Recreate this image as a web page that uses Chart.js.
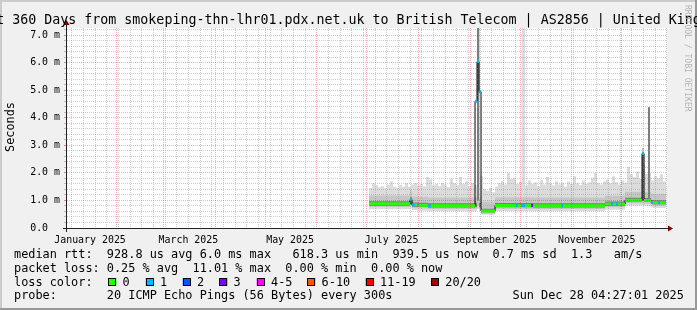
<!DOCTYPE html>
<html>
<head>
<meta charset="utf-8">
<script src="https://cdn.jsdelivr.net/npm/chart.js@4.4.1/dist/chart.umd.min.js"></script>
<style>
  html, body { margin: 0; padding: 0; background: #f0f0f0; }
  canvas { display: block; }
</style>
</head>
<body>
<canvas id="smokeChart" width="697" height="310"></canvas>
<script>
const titleText = 'Last 360 Days from smokeping-thn-lhr01.pdx.net.uk to British Telecom | AS2856 | United Kingdom';

// x values are days since 1 Jan 2025 00:00
const rangeStart = 1.185;   // Jan 02 04:27
const rangeEnd = 361.185;   // Dec 28 04:27
const yMax = 7.26;

const monthLabels = ['January 2025', 'March 2025', 'May 2025', 'July 2025', 'September 2025', 'November 2025'];
const monthLabelDays = [15, 74, 135, 196, 258, 319];
const monthStartDays = [31, 59, 90, 120, 151, 181, 212, 243, 273, 304, 334];
const firstSunday = 4;
const yLabels = ['0.0  ', '1.0 m', '2.0 m', '3.0 m', '4.0 m', '5.0 m', '6.0 m', '7.0 m'];

// median rtt (ms) per segment, segment starts in days
const segStartDay = [182.4, 207.0, 208.2, 210.0, 211.2, 212.4, 217.8, 219.6, 246.0, 247.2, 248.4, 249.6,
  258.0, 270.6, 271.8, 273.6, 276.0, 279.6, 280.8, 297.6, 298.8, 324.0, 327.6, 328.8, 330.6, 331.8,
  336.0, 346.2, 347.4, 349.8, 351.0, 351.6, 352.8, 355.8, 357.0];
const dataEndDay = 360.6;
const medianMs = [0.88, 1.03, 0.84, 0.84, 0.84, 0.83, 0.80, 0.81, 4.60, 6.04, 4.95, 0.62,
  0.82, 0.82, 0.82, 0.82, 0.82, 0.82, 0.81, 0.81, 0.81, 0.87, 0.87, 0.87, 0.87, 0.87,
  1.01, 2.70, 1.00, 1.00, 1.00, 0.93, 0.92, 0.92, 0.92];
const lostPings = [0, 1, 1, 0, 1, 0, 1, 0, 1, 1, 1, 0,
  0, 1, 0, 1, 0, 3, 0, 1, 0, 0, 1, 0, 1, 0,
  0, 1, 0, 0, 0, 1, 0, 1, 0];

// smoke bands per segment
const smokeLow = [0.68, 0.72, 0.64, 0.64, 0.64, 0.63, 0.61, 0.61, 0.62, 0.70, 0.62, 0.48,
  0.62, 0.62, 0.62, 0.62, 0.62, 0.62, 0.61, 0.61, 0.61, 0.66, 0.66, 0.66, 0.66, 0.66,
  0.82, 0.82, 0.81, 0.81, 0.81, 0.74, 0.73, 0.73, 0.73];
const midLow = [0.76, 0.80, 0.72, 0.72, 0.72, 0.71, 0.69, 0.69, 0.70, 0.80, 0.70, 0.52,
  0.70, 0.70, 0.70, 0.70, 0.70, 0.70, 0.69, 0.69, 0.69, 0.75, 0.75, 0.75, 0.75, 0.75,
  0.90, 0.90, 0.89, 0.89, 0.89, 0.82, 0.81, 0.81, 0.81];
const coreLow = [0.81, 0.86, 0.77, 0.77, 0.77, 0.76, 0.74, 0.74, 0.75, 1.00, 0.75, 0.57,
  0.75, 0.75, 0.75, 0.75, 0.75, 0.75, 0.74, 0.74, 0.74, 0.80, 0.80, 0.80, 0.80, 0.80,
  0.95, 0.98, 0.94, 0.94, 0.94, 0.87, 0.86, 0.86, 0.86];
const coreHigh = [0.97, 1.12, 0.93, 0.93, 0.93, 0.92, 0.90, 0.90, 0.92, 7.30, 0.92, 0.70,
  0.91, 0.91, 0.91, 0.91, 0.91, 0.91, 0.90, 0.90, 0.90, 0.96, 0.96, 0.96, 0.96, 0.96,
  1.10, 2.75, 1.09, 4.38, 1.09, 1.02, 1.01, 1.01, 1.01];
const midHigh = [1.18, 1.35, 1.14, 1.14, 1.14, 1.13, 1.11, 1.11, 1.12, 7.30, 1.12, 0.95,
  1.12, 1.12, 1.12, 1.12, 1.12, 1.12, 1.11, 1.11, 1.11, 1.17, 1.17, 1.17, 1.17, 1.17,
  1.32, 2.90, 1.31, 4.38, 1.31, 1.24, 1.23, 1.23, 1.23];

// top of the smoke, one value every 1.8 days
const smokeTopStart = 182.4;
const smokeTopStep = 1.8;
const smokeTop = [
  1.45, 1.62, 1.55, 1.48, 1.52, 1.44, 1.58, 1.69, 1.50, 1.47,
  1.56, 1.50, 1.62, 1.49, 1.58, 1.63, 1.55, 1.60, 1.52, 1.85,
  1.76, 1.55, 1.60, 1.52, 1.64, 1.58, 1.49, 1.80, 1.62, 1.55,
  1.86, 1.60, 1.70, 1.52, 1.64, 1.55, 7.30, 1.90, 1.42, 1.35,
  1.46, 1.30, 1.50, 1.62, 1.70, 1.58, 2.00, 1.78, 1.82, 1.60,
  1.68, 7.30, 1.55, 1.72, 1.60, 1.66, 1.52, 1.75, 1.58, 1.86,
  1.62, 1.55, 1.70, 1.58, 1.64, 1.50, 1.68, 1.60, 1.88, 1.62,
  1.56, 1.72, 1.60, 1.66, 1.82, 2.00, 1.64, 1.58, 1.70, 1.76,
  1.62, 1.88, 1.66, 1.58, 1.72, 1.64, 2.22, 1.95, 1.85, 2.05,
  1.78, 2.30, 1.96, 2.00, 1.72, 1.90, 1.80, 1.95, 1.70
];

const lossLabels = ['0', '1', '2', '3', '4-5', '6-10', '11-19', '20/20'];
const lossColors = ['#26ff00', '#00b8ff', '#0059ff', '#7e00ff', '#ff00ff', '#ff5500', '#ff0000', '#a10000'];

const statsLines = [
  'median rtt:  928.8 us avg 6.0 ms max   618.3 us min  939.5 us now  0.7 ms sd  1.3   am/s',
  'packet loss: 0.25 % avg  11.01 % max  0.00 % min  0.00 % now',
  'loss color:',
  'probe:       20 ICMP Echo Pings (56 Bytes) every 300s'
];
const dateText = 'Sun Dec 28 04:27:01 2025';

const MONO = '"DejaVu Sans Mono", monospace';

function lossClass(n) {
  if (n <= 3) return n;
  if (n <= 5) return 4;
  if (n <= 10) return 5;
  if (n <= 19) return 6;
  return 7;
}

// common x list for the smoke layers
const xSet = new Set([...segStartDay, dataEndDay].map(d => +d.toFixed(2)));
for (let i = 0; i <= smokeTop.length; i++) xSet.add(+(smokeTopStart + i * smokeTopStep).toFixed(2));
const xList = [...xSet].sort((a, b) => a - b);

function segIndex(x) {
  let k = 0;
  for (let i = 0; i < segStartDay.length; i++) if (segStartDay[i] <= x + 1e-6) k = i;
  return k;
}
function topIndex(x) {
  return Math.min(smokeTop.length - 1, Math.floor((x - smokeTopStart) / smokeTopStep + 1e-6));
}
const bandPoints = arr => xList.map(x => ({ x, y: arr[segIndex(x)] }));
const topPoints = xList.map(x => ({ x, y: smokeTop[topIndex(x)] }));

const medianPoints = segStartDay.map((d, i) => ({ x: d, y: medianMs[i] }));
medianPoints.push({ x: dataEndDay, y: medianMs[medianMs.length - 1] });

const lossDatasets = lossColors.map((color, k) => {
  const pts = [];
  segStartDay.forEach((d, i) => {
    if (lossClass(lostPings[i]) !== k) return;
    const end = i + 1 < segStartDay.length ? segStartDay[i + 1] : dataEndDay;
    pts.push({ x: d, y: medianMs[i] }, { x: end, y: medianMs[i] }, { x: end, y: null });
  });
  return {
    data: pts, borderColor: color, borderWidth: 3, borderCapStyle: 'butt',
    pointRadius: 0, stepped: true, spanGaps: false, fill: false, order: 1
  };
});

const hidden = (data, order) => ({
  data, borderWidth: 0, borderColor: 'rgba(0,0,0,0)', pointRadius: 0, stepped: true, fill: false, order
});
const band = (data, target, color, order) => ({
  data, borderWidth: 0, borderColor: 'rgba(0,0,0,0)', backgroundColor: color,
  pointRadius: 0, stepped: true, fill: target, order
});

// x ticks: weekly minor grid, monthly major grid, mid-month labels
const xTickKind = new Map();
for (let d = firstSunday; d <= rangeEnd; d += 7) xTickKind.set(d, { grid: 'minor', label: '' });
monthStartDays.forEach(d => xTickKind.set(d, { grid: 'major', label: '' }));
monthLabelDays.forEach((d, i) => {
  const k = xTickKind.get(d);
  xTickKind.set(d, { grid: k ? k.grid : null, label: monthLabels[i] });
});
const xTicks = [...xTickKind.keys()].sort((a, b) => a - b);

const minorGrid = 'rgba(140,140,140,0.42)';
const majorGrid = 'rgba(255,0,0,0.32)';

const decor = {
  id: 'decor',
  beforeDraw(chart) {
    const { ctx, chartArea: a, width, height } = chart;
    ctx.save();
    ctx.fillStyle = '#f0f0f0';
    ctx.fillRect(0, 0, width, height);
    ctx.fillStyle = '#ffffff';
    ctx.fillRect(a.left, a.top, a.right - a.left, a.bottom - a.top);
    ctx.restore();
  },
  afterDraw(chart) {
    const { ctx, chartArea: a, width, height } = chart;
    ctx.save();
    // frame
    ctx.fillStyle = '#cbcbcb';
    ctx.fillRect(0, 0, width, 2);
    ctx.fillRect(0, 0, 2, height);
    ctx.fillStyle = '#999999';
    ctx.fillRect(0, height - 2, width, 2);
    ctx.fillRect(width - 2, 0, 2, height);

    // axes with arrows
    ctx.strokeStyle = '#222';
    ctx.lineWidth = 1;
    ctx.beginPath();
    ctx.moveTo(a.left - 0.5, a.bottom + 4);
    ctx.lineTo(a.left - 0.5, a.top - 6);
    ctx.moveTo(a.left - 4, a.bottom + 0.5);
    ctx.lineTo(a.right + 2, a.bottom + 0.5);
    ctx.stroke();
    ctx.fillStyle = '#7f0000';
    ctx.beginPath();
    ctx.moveTo(a.left - 3.5, a.top - 3);
    ctx.lineTo(a.left + 2.5, a.top - 3);
    ctx.lineTo(a.left - 0.5, a.top - 8);
    ctx.closePath();
    ctx.fill();
    ctx.beginPath();
    ctx.moveTo(a.right + 1, a.bottom - 2.5);
    ctx.lineTo(a.right + 1, a.bottom + 3.5);
    ctx.lineTo(a.right + 6, a.bottom + 0.5);
    ctx.closePath();
    ctx.fill();

    // title
    ctx.fillStyle = '#000';
    ctx.font = '13.3px ' + MONO;
    ctx.textAlign = 'center';
    ctx.textBaseline = 'alphabetic';
    ctx.fillText(titleText, width / 2, 24);

    // vertical labels
    ctx.font = '11.86px ' + MONO;
    ctx.save();
    ctx.translate(14.3, 127);
    ctx.rotate(-Math.PI / 2);
    ctx.fillText('Seconds', 0, 0);
    ctx.restore();

    ctx.save();
    ctx.fillStyle = '#b4b4b4';
    ctx.font = '8.06px ' + MONO;
    ctx.textAlign = 'left';
    ctx.translate(685, 5);
    ctx.rotate(Math.PI / 2);
    ctx.fillText('RRDTOOL / TOBI OETIKER', 0, 0);
    ctx.restore();

    // legend
    ctx.textAlign = 'left';
    ctx.font = '11.86px ' + MONO;
    const base = [258.3, 272.1, 285.9, 299.4];
    statsLines.forEach((t, i) => ctx.fillText(t, 14, base[i]));
    ctx.fillText(dateText, 512.5, base[3]);

    const boxX = [108.3, 145.7, 182.7, 219.3, 256.7, 307.3, 365.7, 431];
    lossLabels.forEach((lab, i) => {
      ctx.fillStyle = lossColors[i];
      ctx.fillRect(boxX[i], 278, 8, 8);
      ctx.strokeStyle = '#000';
      ctx.strokeRect(Math.round(boxX[i]) + 0.5, 278.5, 7, 7);
      ctx.fillStyle = '#000';
      ctx.fillText(lab, boxX[i] + 14.3, base[2]);
    });
    ctx.restore();
  }
};

const ctx = document.getElementById('smokeChart').getContext('2d');
const chart = new Chart(ctx, {
  type: 'line',
  data: {
    datasets: [
      hidden(bandPoints(smokeLow), 9),
      band(topPoints, 0, '#dcdcdc', 8),
      hidden(bandPoints(midLow), 7),
      band(bandPoints(midHigh), 2, '#c6c6c6', 6),
      hidden(bandPoints(coreLow), 5),
      band(bandPoints(coreHigh), 4, '#7c7c7c', 4),
      {
        data: medianPoints, borderColor: '#000', borderWidth: 1,
        pointRadius: 0, stepped: true, fill: false, order: 3
      },
      ...lossDatasets
    ]
  },
  options: {
    responsive: false,
    devicePixelRatio: 1,
    animation: false,
    events: [],
    layout: { padding: { top: 28, left: 0, right: 30, bottom: 62 } },
    plugins: {
      legend: { display: false },
      tooltip: { enabled: false },
      title: { display: false }
    },
    scales: {
      x: {
        type: 'linear',
        min: rangeStart,
        max: rangeEnd,
        afterBuildTicks: s => { s.ticks = xTicks.map(v => ({ value: v })); },
        afterFit: s => { s.height = 20; },
        grid: {
          z: 1,
          drawTicks: false,
          color: c => {
            const k = c.tick && xTickKind.get(c.tick.value);
            if (!k || !k.grid) return 'rgba(0,0,0,0)';
            return k.grid === 'major' ? majorGrid : minorGrid;
          }
        },
        border: { display: false, dash: [1, 1] },
        ticks: {
          autoSkip: false,
          maxRotation: 0,
          minRotation: 0,
          padding: 6,
          color: '#000',
          font: { family: MONO, size: 9.92 },
          callback: v => (xTickKind.get(v) || {}).label || ''
        }
      },
      y: {
        type: 'linear',
        min: 0,
        max: yMax,
        afterBuildTicks: s => {
          const t = [];
          for (let k = 0; k <= 36; k++) t.push({ value: k / 5 });
          s.ticks = t;
        },
        afterFit: s => { s.width = 67; },
        grid: {
          z: 1,
          tickLength: 3,
          color: c => (c.index % 5 === 0 ? majorGrid : minorGrid),
          tickColor: c => (c.index % 5 === 0 ? 'rgba(255,0,0,0.45)' : 'rgba(128,128,128,0.45)')
        },
        border: { display: false, dash: [1, 1] },
        ticks: {
          autoSkip: false,
          padding: 4,
          color: '#000',
          font: { family: MONO, size: 9.92 },
          callback: (v, i) => (i % 5 === 0 ? yLabels[i / 5] : '')
        }
      }
    }
  },
  plugins: [decor]
});
</script>
</body>
</html>
